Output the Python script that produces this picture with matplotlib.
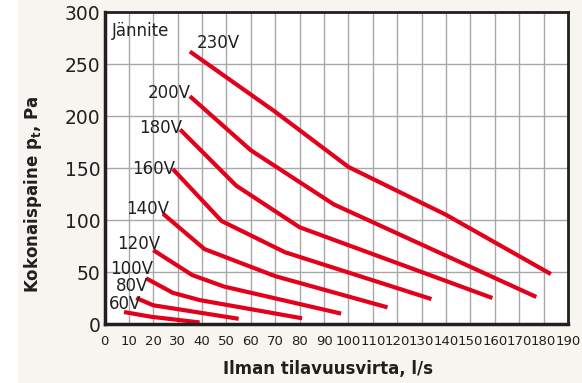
import matplotlib
matplotlib.use("Agg")
import matplotlib.pyplot as plt
from matplotlib.patches import Rectangle

# ---- data ----
voltages = ["230V", "200V", "180V", "160V", "140V", "120V", "100V", "80V", "60V"]
flow_230 = [35, 70, 100, 140, 183]
pres_230 = [262, 204, 151, 105, 48]
flow_200 = [35, 60, 94, 177]
pres_200 = [219, 167, 115, 26]
flow_180 = [31, 54, 80, 159]
pres_180 = [187, 133, 93, 25]
flow_160 = [28, 48, 74, 134]
pres_160 = [149, 99, 69, 24]
flow_140 = [24, 41, 70, 116]
pres_140 = [106, 72, 46, 16]
flow_120 = [20, 36, 49, 97]
pres_120 = [71, 47, 36, 10]
flow_100 = [17, 28, 39, 81]
pres_100 = [44, 30, 23, 5.5]
flow_80 = [13, 20, 55]
pres_80 = [25, 18, 5]
flow_60 = [8, 19, 39]
pres_60 = [11.5, 7, 1.5]

x_ticks = list(range(0, 191, 10))
y_ticks = [0, 50, 100, 150, 200, 250, 300]

flows = [flow_230, flow_200, flow_180, flow_160, flow_140, flow_120, flow_100, flow_80, flow_60]
press = [pres_230, pres_200, pres_180, pres_160, pres_140, pres_120, pres_100, pres_80, pres_60]

# label offsets (pixels) relative to each curve's first point
label_dx = [7, 1, 2, 2, 6, 7, 7, 12, 17]
label_dy = [9, 3, 2, 0, 5, 6, 9, 12, 8]
label_ha = ["left"] + ["right"] * 8

RED = "#e2001a"
BEIGE = "#f6f5ef"

fig = plt.figure(figsize=(5.82, 3.83), dpi=100, facecolor=BEIGE)
fig.patches.append(Rectangle((0, 0), 18 / 582, 1, transform=fig.transFigure,
                             facecolor="white", edgecolor="none", zorder=-1))
ax = fig.add_axes([104.5 / 582, (383 - 324) / 383, (568 - 104.5) / 582, (324 - 12) / 383])
ax.set_facecolor("white")

ax.set_xlim(0, 190)
ax.set_ylim(0, 300)
ax.set_xticks(x_ticks)
ax.set_yticks(y_ticks)
ax.grid(True, color="#a8a8a8", linewidth=1.0)
ax.set_axisbelow(True)
ax.tick_params(axis="both", length=0, colors="#231f20")
ax.tick_params(axis="y", labelsize=13.5, pad=3)
ax.tick_params(axis="x", labelsize=9.5, pad=8)

for s in ax.spines.values():
    s.set_color("#231f20")
ax.spines["left"].set_linewidth(2.5)
ax.spines["bottom"].set_linewidth(2.5)
ax.spines["top"].set_linewidth(2.0)
ax.spines["right"].set_linewidth(2.0)

for lab, fx, py, dx, dy, ha in zip(voltages, flows, press, label_dx, label_dy, label_ha):
    ax.plot(fx, py, color=RED, linewidth=3, solid_capstyle="butt", solid_joinstyle="round")
    ax.annotate(lab, (fx[0], py[0]), xytext=(dx, dy), textcoords="offset pixels",
                ha=ha, va="center", fontsize=12, color="#231f20")

ax.text(3, 282, "Jännite", ha="left", va="center", fontsize=12, color="#231f20")

ax.set_xlabel("Ilman tilavuusvirta, l/s", fontsize=12, fontweight="bold", color="#231f20")
ax.set_ylabel(r"Kokonaispaine p$_{\mathbf{t}}$, Pa", fontsize=12, fontweight="bold", color="#231f20")
ax.xaxis.set_label_coords(0.482, -0.115)
ax.yaxis.set_label_coords(-0.13, 0.417)

fig.savefig("out.png", dpi=100, facecolor=BEIGE)
